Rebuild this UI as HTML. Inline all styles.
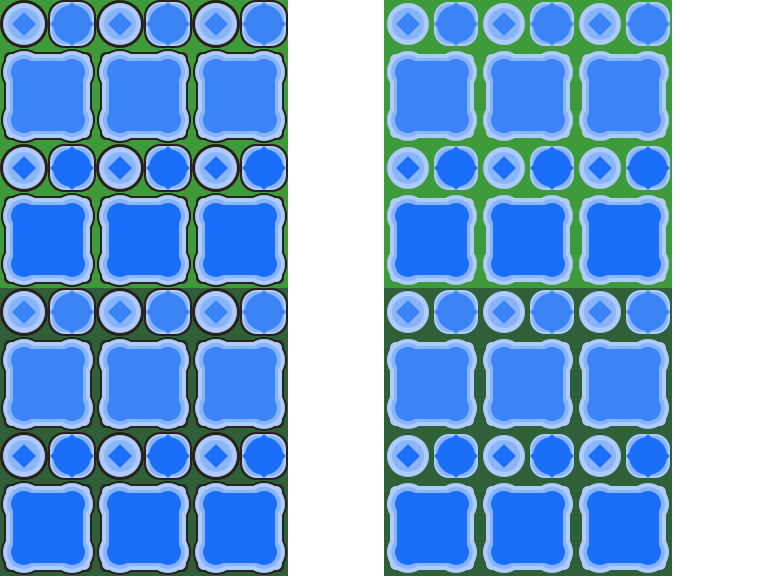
<!DOCTYPE html>
<html><head><meta charset="utf-8"><style>
html,body{margin:0;padding:0;background:#fff;width:768px;height:576px;overflow:hidden}
svg{display:block}
</style></head><body>
<svg id="s" width="768" height="576" viewBox="0 0 768 576" xmlns="http://www.w3.org/2000/svg"></svg>
<script>
const panels = [0, 384];
const outlined = [true, false];
const smallRowsY = [0, 144, 288, 432];
const bigRowsY = [48, 192, 336, 480];
const rowBlue = ["#3a84f6", "#1a6efa", "#3a84f6", "#1a6efa"];
const greens = ["#3f9a3a", "#2f5f37"];
const PALE = "#aecbff", MID = "#88b4fb", OUT = "#2a211c";
const NS = "http://www.w3.org/2000/svg";
const svg = document.getElementById('s');
function el(tag, attrs, parent) {
  const e = document.createElementNS(NS, tag);
  for (const k in attrs) e.setAttribute(k, attrs[k]);
  (parent || svg).appendChild(e);
  return e;
}
function blob(t, x, y, inset, r, fill) {
  el('rect', {x: x + inset, y: y + inset, width: 96 - 2 * inset, height: 96 - 2 * inset, rx: 6, fill}, t);
  [[24, 24], [72, 24], [24, 72], [72, 72]].forEach(([dx, dy]) => {
    el('circle', {cx: x + dx, cy: y + dy, r, fill}, t);
  });
}
panels.forEach((px, pi) => {
  const g = el('g', {});
  
  
  el('rect', {x: px, y: 0, width: 288, height: 288, fill: greens[0]}, g);
  el('rect', {x: px, y: 288, width: 288, height: 288, fill: greens[1]}, g);
  const ol = outlined[pi];
  smallRowsY.forEach((y, ri) => {
    const blue = rowBlue[ri];
    for (let c = 0; c < 6; c++) {
      const x = px + c * 48, cx = x + 24, cy = y + 24;
      const t = el('g', {}, g);
      if (c % 2 === 0) {
        
        
        if (ol) el('circle', {cx, cy, r: 24, fill: OUT}, t);
        el('circle', {cx, cy, r: 21, fill: PALE}, t);
        el('circle', {cx, cy, r: 16, fill: MID}, t);
        el('polygon', {points: `${cx},${cy-12} ${cx+12},${cy} ${cx},${cy+12} ${cx-12},${cy}`, fill: blue}, t);
      } else {
        
        
        if (ol) el('rect', {x: x, y: y, width: 48, height: 48, rx: 16, fill: OUT}, t);
        el('rect', {x: x + 2, y: y + 2, width: 44, height: 44, rx: 15, fill: PALE}, t);
        el('rect', {x: x + 4, y: y + 4, width: 40, height: 40, rx: 13, fill: MID}, t);
        el('circle', {cx, cy, r: 19, fill: blue}, t);
        el('polygon', {points: `${cx},${y+2} ${x+46},${cy} ${cx},${y+46} ${x+2},${cy}`, fill: blue}, t);
      }
    }
  });
  bigRowsY.forEach((y, ri) => {
    const blue = rowBlue[ri];
    for (let c = 0; c < 3; c++) {
      const x = px + c * 96;
      const t = el('g', {}, g);
      
      
      if (ol) blob(t, x, y, 4, 23, OUT);
      blob(t, x, y, 6, 21, PALE);
      blob(t, x, y, 10, 17, MID);
      blob(t, x, y, 13, 13, blue);
    }
  });
});
</script>
</body></html>
